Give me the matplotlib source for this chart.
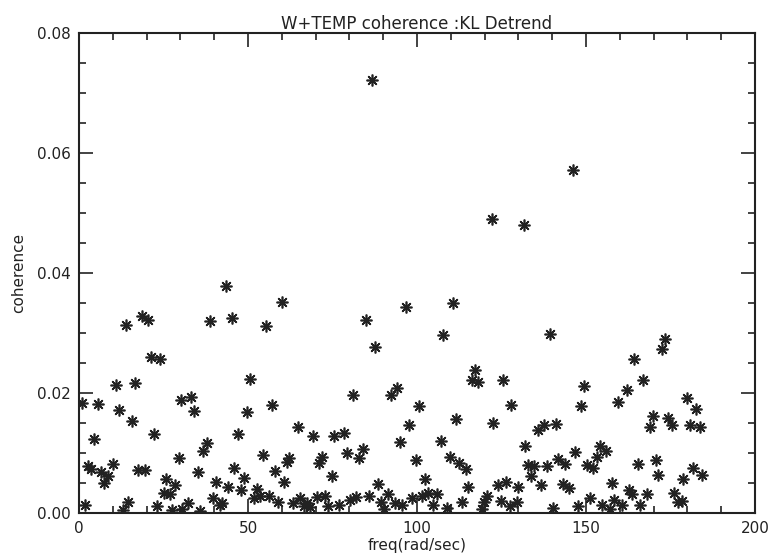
import matplotlib
matplotlib.use("Agg")
import matplotlib.pyplot as plt
from matplotlib.ticker import MultipleLocator

freq = [1.0, 1.8, 2.8, 3.6, 4.5, 5.5, 6.5, 7.5, 8.7, 10.1, 10.9, 11.8, 12.9, 13.8, 14.6,
        15.8, 16.6, 17.5, 18.5, 19.5, 20.3, 21.3, 22.1, 23.0, 24.0, 25.2, 25.6, 26.9, 27.4,
        28.4, 29.6, 30.2, 30.6, 32.2, 33.1, 34.1, 35.1, 35.8, 36.8, 37.8, 38.7, 39.7, 40.5,
        41.7, 42.4, 43.4, 44.2, 45.2, 45.9, 47.0, 47.9, 48.9, 49.7, 50.7, 51.9, 52.6, 53.6,
        54.4, 55.2, 56.2, 57.2, 58.0, 59.0, 60.0, 60.7, 61.4, 62.1, 63.4, 64.7, 65.4, 66.5,
        67.4, 68.3, 69.3, 70.3, 71.0, 72.0, 72.8, 73.8, 74.8, 75.5, 76.8, 78.5, 79.2, 80.2,
        81.2, 82.1, 82.9, 83.9, 84.8, 85.8, 86.7, 87.6, 88.6, 89.3, 90.3, 91.5, 92.3, 93.5,
        94.0, 95.0, 95.5, 96.7, 97.6, 98.6, 99.7, 100.6, 101.4, 102.4, 103.2, 104.7, 105.8,
        107.0, 107.8, 108.8, 109.8, 110.7, 111.5, 112.4, 113.4, 114.5, 115.2, 116.2, 117.2,
        118.1, 119.3, 119.9, 120.6, 122.2, 122.6, 123.9, 124.9, 125.4, 126.2, 127.5, 127.8,
        129.5, 130.0, 131.6, 132.0, 132.7, 133.7, 134.7, 135.7, 136.7, 137.7, 138.4, 139.3,
        140.3, 141.0, 141.8, 143.1, 143.8, 145.0, 146.3, 146.7, 147.5, 148.5, 149.5, 150.2,
        151.2, 152.2, 153.2, 154.1, 154.8, 155.8, 157.1, 157.6, 158.4, 159.6, 160.6, 162.0,
        162.7, 163.5, 164.2, 165.3, 166.0, 167.0, 168.0, 168.9, 169.9, 170.6, 171.4, 172.6,
        173.4, 174.4, 175.5, 176.1, 177.1, 178.3, 178.8, 179.8, 180.8, 181.7, 182.5, 183.7,
        184.4]
coherence = [0.0184, 0.0014, 0.0079, 0.0074, 0.0124, 0.0181, 0.0069, 0.0050, 0.0062, 0.0082,
             0.0214, 0.0172, 0.0005, 0.0314, 0.0019, 0.0154, 0.0216, 0.0071, 0.0329, 0.0071,
             0.0322, 0.0260, 0.0132, 0.0011, 0.0257, 0.0034, 0.0056, 0.0032, 0.0005, 0.0046,
             0.0092, 0.0188, 0.0007, 0.0017, 0.0193, 0.0170, 0.0068, 0.0003, 0.0103, 0.0117,
             0.0320, 0.0025, 0.0052, 0.0014, 0.0017, 0.0378, 0.0044, 0.0325, 0.0075, 0.0132,
             0.0039, 0.0059, 0.0168, 0.0223, 0.0025, 0.0040, 0.0029, 0.0096, 0.0311, 0.0029,
             0.0180, 0.0070, 0.0019, 0.0352, 0.0052, 0.0085, 0.0092, 0.0017, 0.0143, 0.0025,
             0.0011, 0.0017, 0.0010, 0.0129, 0.0027, 0.0084, 0.0094, 0.0029, 0.0011, 0.0061,
             0.0129, 0.0013, 0.0133, 0.0100, 0.0021, 0.0197, 0.0027, 0.0092, 0.0106, 0.0322,
             0.0029, 0.0722, 0.0277, 0.0049, 0.0019, 0.0006, 0.0031, 0.0197, 0.0017, 0.0208,
             0.0119, 0.0014, 0.0344, 0.0147, 0.0025, 0.0089, 0.0178, 0.0029, 0.0056, 0.0033,
             0.0013, 0.0032, 0.0120, 0.0297, 0.0008, 0.0093, 0.0350, 0.0156, 0.0084, 0.0018,
             0.0073, 0.0043, 0.0222, 0.0239, 0.0218, 0.0006, 0.0018, 0.0028, 0.0490, 0.0150,
             0.0047, 0.0020, 0.0221, 0.0051, 0.0012, 0.0180, 0.0018, 0.0043, 0.0480, 0.0111,
             0.0080, 0.0062, 0.0078, 0.0138, 0.0046, 0.0147, 0.0079, 0.0299, 0.0008, 0.0149,
             0.0090, 0.0048, 0.0082, 0.0042, 0.0571, 0.0101, 0.0012, 0.0179, 0.0212, 0.0080,
             0.0025, 0.0075, 0.0093, 0.0111, 0.0014, 0.0104, 0.0006, 0.0050, 0.0022, 0.0185,
             0.0014, 0.0205, 0.0038, 0.0031, 0.0257, 0.0082, 0.0014, 0.0221, 0.0031, 0.0143,
             0.0162, 0.0088, 0.0064, 0.0273, 0.0290, 0.0158, 0.0146, 0.0033, 0.0019, 0.0020,
             0.0057, 0.0192, 0.0147, 0.0075, 0.0173, 0.0143, 0.0064]

x_ticks = [0, 50, 100, 150, 200]
x_tick_labels = ["0", "50", "100", "150", "200"]
y_ticks = [0.00, 0.02, 0.04, 0.06, 0.08]
y_tick_labels = ["0.00", "0.02", "0.04", "0.06", "0.08"]

fg = "#222222"
fig = plt.figure(figsize=(7.69, 5.59), dpi=100)
ax = fig.add_axes([79/769, 1-513/559, (755-79)/769, (513-33)/559])

ax.plot(freq, coherence, linestyle="none", marker=(8, 2, 0), markersize=8.5,
        markeredgewidth=1.2, color=fg, markeredgecolor=fg)

ax.set_xlim(0, 200)
ax.set_ylim(0, 0.08)
ax.set_xticks(x_ticks)
ax.set_xticklabels(x_tick_labels)
ax.set_yticks(y_ticks)
ax.set_yticklabels(y_tick_labels)
ax.xaxis.set_minor_locator(MultipleLocator(10))
ax.yaxis.set_minor_locator(MultipleLocator(0.005))
ax.tick_params(which="both", direction="in", top=True, right=True, colors=fg,
               labelsize=11, width=1.2)
ax.tick_params(which="major", length=10, pad=6)
ax.tick_params(which="minor", length=5)
for s in ax.spines.values():
    s.set_linewidth(1.5)
    s.set_color(fg)

ax.set_title("W+TEMP coherence :KL Detrend", fontsize=12, color=fg, pad=3)
ax.set_xlabel("freq(rad/sec)", fontsize=11, color=fg, labelpad=1)
ax.set_ylabel("coherence", fontsize=11, color=fg, labelpad=8)

fig.savefig("out.png", dpi=100)
